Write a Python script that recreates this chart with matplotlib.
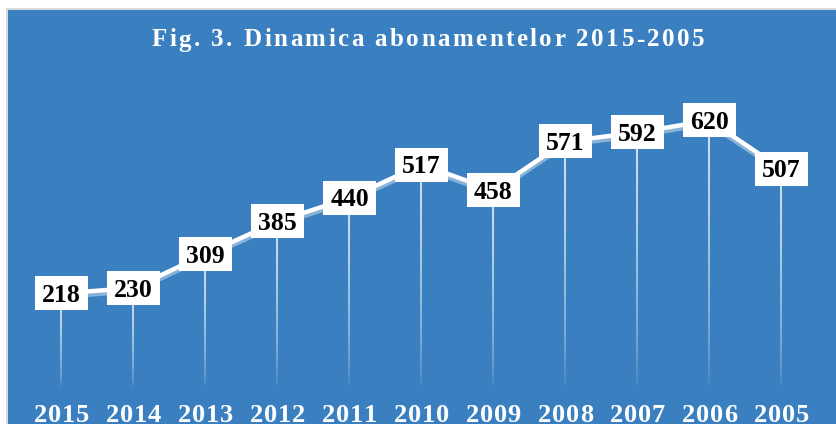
import matplotlib
matplotlib.use('Agg')
import matplotlib.pyplot as plt
import matplotlib.transforms as mtransforms
import matplotlib.patheffects as pe
from matplotlib.patches import Rectangle
from matplotlib.collections import LineCollection
from matplotlib.font_manager import FontProperties
import numpy as np

# ---- data ----
years = ['2015', '2014', '2013', '2012', '2011', '2010', '2009', '2008', '2007', '2006', '2005']
values = [218, 230, 309, 385, 440, 517, 458, 571, 592, 620, 507]
title = 'Fig. 3. Dinamica abonamentelor 2015-2005'

W, H = 836, 424
BLUE = '#3A7FBF'
SERIF = 'Liberation Serif'

fig = plt.figure(figsize=(W / 100, H / 100), dpi=100)
fig.patch.set_facecolor('white')

# chart area border + background
fig.add_artist(Rectangle((6 / W, 0), 1, (H - 8) / H, transform=fig.transFigure,
                         facecolor='#D9D9D9', edgecolor='none', zorder=0))
fig.add_artist(Rectangle((8 / W, 0), 1, (H - 10) / H, transform=fig.transFigure,
                         facecolor=BLUE, edgecolor='none', zorder=0))

ax = fig.add_axes([25.5 / W, 37 / H, 792 / W, 301 / H])
ax.set_facecolor('none')
ax.axis('off')
x = np.arange(len(values))

# drop lines with fading gradient
N = 50
segs, cols = [], []
for xi, v in zip(x, values):
    ys = np.linspace(v, 0, N + 1)
    for k in range(N):
        segs.append([(xi, ys[k]), (xi, ys[k + 1])])
        t = (k + 0.5) / N
        cols.append((1, 1, 1, 0.95 * (1 - t) ** 0.6))
ax.add_collection(LineCollection(segs, colors=cols, linewidths=1.2, zorder=2))

# main line with soft shadow
ax.plot(x, values, color='white', lw=3.2, solid_capstyle='round', zorder=3,
        path_effects=[pe.SimpleLineShadow(offset=(0, -2.4), shadow_color='white', alpha=0.4),
                      pe.Normal()])

# data label boxes
for xi, v in zip(x, values):
    tr = fig.dpi_scale_trans + mtransforms.ScaledTranslation(xi, v, ax.transData)
    ax.add_patch(Rectangle((-0.265, -0.17), 0.53, 0.34, transform=tr,
                           facecolor='white', edgecolor='none', zorder=4, clip_on=False))
    ax.annotate(str(v), (xi, v), xytext=(0, -6.1), textcoords='offset points',
                ha='center', va='baseline', fontsize=18.5, fontweight='bold',
                family=SERIF, color='black', zorder=5, annotation_clip=False)

ax.set_xlim(-0.5, len(values) - 0.5)
ax.set_ylim(0, 700)

# letter-spaced text helper
renderer = fig.canvas.get_renderer()


def adv(c, prop):
    w1, _, _ = renderer.get_text_width_height_descent('I' + c + 'I', prop, ismath=False)
    w0, _, _ = renderer.get_text_width_height_descent('II', prop, ismath=False)
    return w1 - w0


def spaced(s, xc_px, base_from_top, total_px, prop, color):
    advs = [adv(c, prop) for c in s]
    sp = (total_px - sum(advs)) / (len(s) - 1)
    pos = xc_px - total_px / 2
    for c, a in zip(s, advs):
        if c != ' ':
            fig.text((pos + a / 2) / W, (H - base_from_top) / H, c, ha='center',
                     va='baseline', fontproperties=prop, color=color, zorder=6)
        pos += a + sp


title_prop = FontProperties(family=SERIF, weight='bold', size=18)
spaced(title, 428, 46.5, 553, title_prop, 'white')

year_prop = FontProperties(family=SERIF, weight='bold', size=19)
for xi, yr in zip(x, years):
    xpix = ax.transData.transform((xi, 0))[0]
    spaced(yr, xpix, 422, 55, year_prop, 'white')

fig.savefig('out.png', dpi=100)
